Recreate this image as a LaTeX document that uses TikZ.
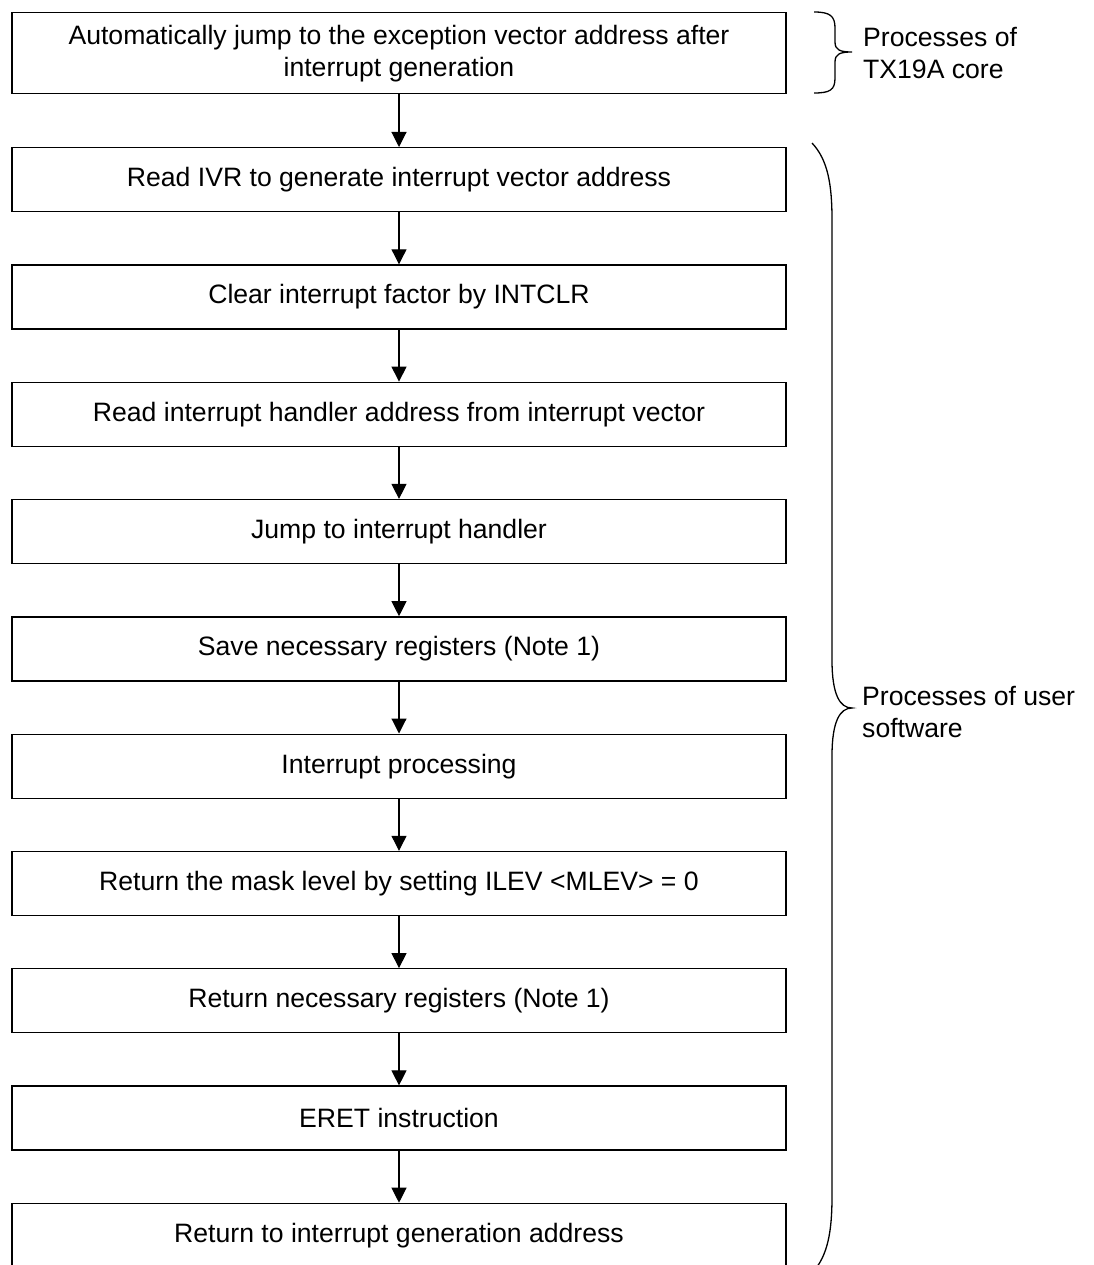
\documentclass[tikz,border=0pt]{standalone}
\usepackage{fontspec}
\setmainfont{Liberation Sans}
\usetikzlibrary{arrows.meta}
\tikzset{
  stepbox/.style={draw, line width=1.3pt, minimum width=774pt, minimum height=64pt, inner sep=0pt, anchor=north, align=center, font=\fontsize{26.6}{32}\selectfont},
  flow/.style={line width=1.1pt, -{Triangle[width=15pt,length=15pt]}},
  brace/.style={line width=1.3pt},
  lbl/.style={anchor=west, inner sep=0pt, align=left, font=\fontsize{26.6}{32}\selectfont}
}
\begin{document}
\begin{tikzpicture}[x=1pt,y=-1pt]
\clip (0,0) rectangle (1093,1265);
\fill[white] (0,0) rectangle (1093,1265);
\node[stepbox, minimum height=81pt] (b1) at (399,12) {Automatically jump to the exception vector address after\\interrupt generation};
\node[stepbox] (b2) at (399,147) {Read IVR to generate interrupt vector address};
\node[stepbox] (b3) at (399,264.3) {Clear interrupt factor by INTCLR};
\node[stepbox] (b4) at (399,381.6) {Read interrupt handler address from interrupt vector};
\node[stepbox] (b5) at (399,498.9) {Jump to interrupt handler};
\node[stepbox] (b6) at (399,616.2) {Save necessary registers (Note 1)};
\node[stepbox] (b7) at (399,733.5) {Interrupt processing};
\node[stepbox] (b8) at (399,850.8) {Return the mask level by setting ILEV <MLEV> = 0};
\node[stepbox] (b9) at (399,968.1) {Return necessary registers (Note 1)};
\node[stepbox] (b10) at (399,1085.4) {ERET instruction};
\node[stepbox] (b11) at (399,1202.7) {Return to interrupt generation address};
\foreach \a/\b in {b1/b2,b2/b3,b3/b4,b4/b5,b5/b6,b6/b7,b7/b8,b8/b9,b9/b10,b10/b11}
  \draw[flow] (\a.south) -- (\b.north);
% small brace
\draw[brace] (814,12) .. controls (830,12) and (835,16) .. (835,28) -- (835,42)
  .. controls (835,50) and (840,52) .. (852,52)
  .. controls (840,52) and (835,54) .. (835,62) -- (835,78)
  .. controls (835,90) and (830,93) .. (814,93);
\node[lbl] (l1) at (863,53) {Processes of\\TX19A core};
% large brace
\draw[brace] (812,143) .. controls (828,160) and (832,185) .. (832,220) -- (832,660)
  .. controls (832,695) and (840,708) .. (852,708)
  .. controls (840,708) and (832,721) .. (832,756) -- (832,1196)
  .. controls (832,1231) and (828,1256) .. (812,1273);
\node[lbl] (l2) at (862,712) {Processes of user\\software};
\end{tikzpicture}
\end{document}
